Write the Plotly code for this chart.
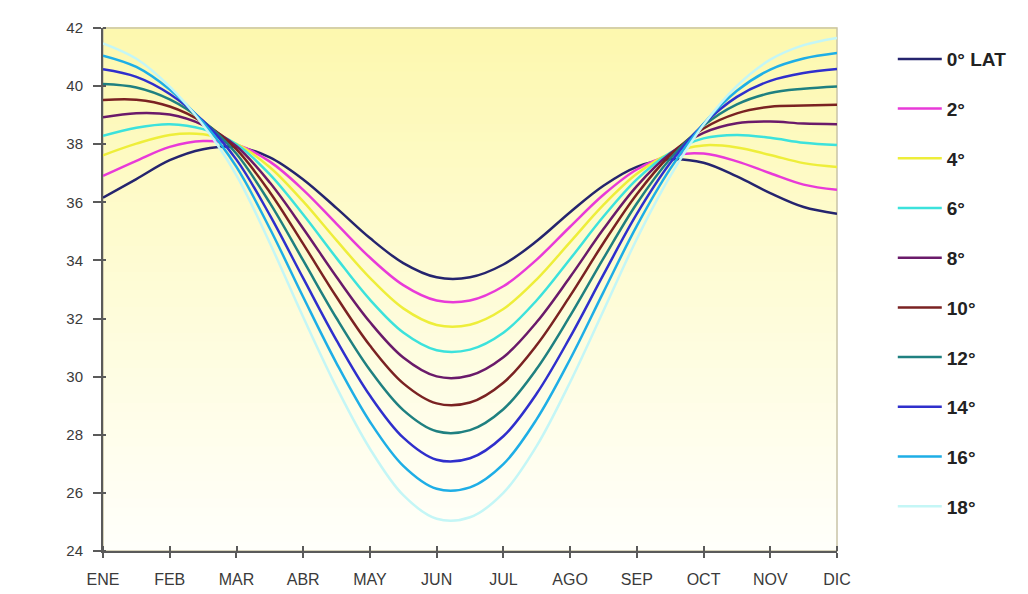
import plotly.graph_objects as go

# month ticks (x axis is the month index, mid-month values)
months = ["ENE", "FEB", "MAR", "ABR", "MAY", "JUN", "JUL", "AGO", "SEP", "OCT", "NOV", "DIC"]
t_months = [i * 0.5 for i in range(23)]

# radiation values, one list per latitude (half-month steps)
lat0 = [36.16, 36.80, 37.45, 37.83, 37.91, 37.55, 36.79, 35.80, 34.77, 33.91, 33.42, 33.42,
        33.86, 34.67, 35.66, 36.57, 37.22, 37.48, 37.36, 36.89, 36.32, 35.84, 35.61]
lat2 = [36.91, 37.43, 37.91, 38.11, 37.98, 37.40, 36.43, 35.26, 34.10, 33.15, 32.62, 32.62,
        33.11, 34.03, 35.16, 36.26, 37.13, 37.60, 37.68, 37.41, 37.00, 36.61, 36.43]
lat4 = [37.62, 38.02, 38.32, 38.34, 38.01, 37.21, 36.03, 34.69, 33.40, 32.35, 31.78, 31.79,
        32.33, 33.35, 34.63, 35.91, 36.98, 37.68, 37.96, 37.89, 37.63, 37.35, 37.22]
lat6 = [38.29, 38.57, 38.69, 38.52, 38.00, 36.96, 35.58, 34.08, 32.65, 31.52, 30.91, 30.93,
        31.51, 32.63, 34.05, 35.51, 36.79, 37.70, 38.20, 38.32, 38.22, 38.05, 37.97]
lat8 = [38.93, 39.07, 39.02, 38.66, 37.93, 36.68, 35.10, 33.43, 31.88, 30.66, 30.01, 30.04,
        30.67, 31.88, 33.43, 35.08, 36.56, 37.68, 38.39, 38.72, 38.78, 38.71, 38.69]
lat10 = [39.52, 39.53, 39.30, 38.75, 37.82, 36.35, 34.57, 32.74, 31.07, 29.77, 29.08, 29.11,
         29.79, 31.09, 32.78, 34.60, 36.28, 37.62, 38.54, 39.06, 39.29, 39.33, 39.36]
lat12 = [40.07, 39.95, 39.54, 38.80, 37.67, 35.98, 34.00, 32.01, 30.23, 28.85, 28.12, 28.16,
         28.88, 30.27, 32.09, 34.07, 35.96, 37.50, 38.64, 39.37, 39.76, 39.91, 39.99]
lat14 = [40.58, 40.32, 39.73, 38.80, 37.47, 35.56, 33.39, 31.25, 29.35, 27.90, 27.14, 27.19,
         27.95, 29.42, 31.36, 33.51, 35.60, 37.35, 38.69, 39.63, 40.18, 40.45, 40.59]
lat16 = [41.05, 40.66, 39.88, 38.75, 37.22, 35.10, 32.74, 30.46, 28.45, 26.93, 26.14, 26.19,
         26.99, 28.54, 30.60, 32.91, 35.19, 37.15, 38.70, 39.84, 40.57, 40.95, 41.14]
lat18 = [41.47, 40.94, 39.98, 38.66, 36.93, 34.60, 32.05, 29.63, 27.52, 25.92, 25.11, 25.16,
         26.00, 27.62, 29.81, 32.27, 34.74, 36.90, 38.67, 40.01, 40.91, 41.41, 41.66]

names = ["0° LAT", "2°", "4°", "6°", "8°", "10°", "12°", "14°", "16°", "18°"]
series = [lat0, lat2, lat4, lat6, lat8, lat10, lat12, lat14, lat16, lat18]
colors = ["#25246e", "#e83ad8", "#eeee3a", "#3ce2dc", "#6a1a6a",
          "#7a2222", "#1f8080", "#2f2fcc", "#1eaee6", "#c4f6f6"]

fig = go.Figure()
for name, vals, col in zip(names, series, colors):
    fig.add_trace(go.Scatter(
        x=t_months, y=vals, mode="lines", name=name, legendgroup=name,
        line=dict(color=col, width=2.5, shape="spline", smoothing=1.0),
    ))

# yellow -> white vertical gradient behind the plot area
shapes = []
n = 60
top = (253, 248, 174)
bot = (255, 255, 250)
for i in range(n):
    f = (i + 0.5) / n          # 0 at bottom, 1 at top
    w = f ** 1.1
    c = tuple(int(round(bot[k] + (top[k] - bot[k]) * w)) for k in range(3))
    shapes.append(dict(type="rect", xref="paper", yref="paper", layer="below",
                       x0=0, x1=1, y0=i / n, y1=(i + 1) / n + 0.002,
                       line=dict(width=0), fillcolor="rgb(%d,%d,%d)" % c))
# light frame on top and right
shapes.append(dict(type="rect", xref="paper", yref="paper", layer="below",
                   x0=0, x1=1, y0=0, y1=1, line=dict(color="#c9c3a6", width=1.5)))

# the page body has an 8px margin, so the figure is 8px smaller than the window
fig.update_layout(
    width=1020, height=586,
    margin=dict(l=95, r=191, t=20, b=43),
    paper_bgcolor="white", plot_bgcolor="white",
    font=dict(family="Liberation Sans, Arial, sans-serif", color="#333333"),
    shapes=shapes,
    showlegend=True,
    legend=dict(x=1.076, xanchor="left", y=0.977, yanchor="top",
                font=dict(size=19, color="#222222", weight="bold"),
                tracegroupgap=22, bgcolor="rgba(0,0,0,0)", itemwidth=44),
)
fig.update_xaxes(
    range=[0, 11], tickmode="array", tickvals=list(range(12)), ticktext=months,
    showgrid=False, zeroline=False, showline=True, linecolor="#5a5a5a", linewidth=2,
    ticks="outside", ticklen=5, tickwidth=1.5, tickcolor="#5a5a5a", automargin=False,
    minor=dict(ticks="inside", tickmode="array", tickvals=[v + 0.001 for v in range(12)],
               ticklen=5, tickwidth=1.5, tickcolor="#5a5a5a", showgrid=False),
    tickfont=dict(size=16, color="#3a3a3a"), ticklabelstandoff=8,
)
fig.update_yaxes(
    range=[24, 42], dtick=2, showgrid=False, zeroline=False,
    showline=True, linecolor="#5a5a5a", linewidth=2, automargin=False,
    ticks="outside", ticklen=8, tickwidth=1.5, tickcolor="#5a5a5a",
    minor=dict(ticks="inside", tickmode="array", tickvals=[24.001 + 2 * k for k in range(10)],
               ticklen=3, tickwidth=1.5, tickcolor="#5a5a5a", showgrid=False),
    tickfont=dict(size=15, color="#3a3a3a"), ticklabelstandoff=7,
)

fig.write_html("out.html")
